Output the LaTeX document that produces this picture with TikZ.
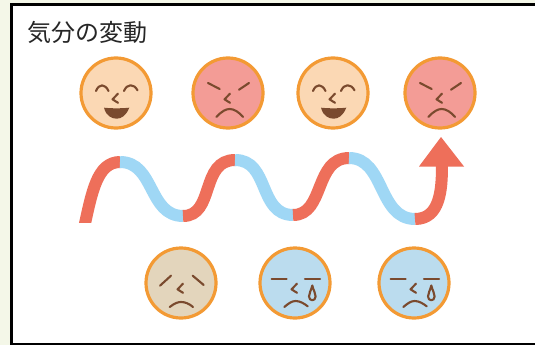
\documentclass[tikz,border=0pt]{standalone}
\usepackage{fontspec}
\newfontfamily\cjk{Noto Sans CJK JP}
\definecolor{pagebg}{HTML}{F4F7E8}
\definecolor{ringc}{HTML}{F39A34}
\definecolor{happyc}{HTML}{FBD8B4}
\definecolor{angryc}{HTML}{F39C96}
\definecolor{sadc}{HTML}{E3D5BC}
\definecolor{cryc}{HTML}{BBDCEE}
\definecolor{inkc}{HTML}{7A4A2E}
\definecolor{upc}{HTML}{EE6F5A}
\definecolor{downc}{HTML}{9FD7F5}
\tikzset{
  x=1pt,y=-1pt,
  ring/.style={draw=ringc,line width=3.2pt},
  ink/.style={draw=inkc,line width=2.1pt,line cap=round,line join=round},
  wave/.style={line width=12pt,line cap=butt},
  nosepart/.pic={\draw[ink] (2,0.7) -- (-3.5,6.3) -- (2,9.8);},
  happyface/.pic={
    \draw[ring,fill=happyc] (0,0) circle[radius=35];
    \draw[ink] (-20,-2) .. controls (-17,-9.5) and (-11,-9.5) .. (-7.5,-2);
    \draw[ink] (8,-2) .. controls (11,-9.5) and (18,-9.5) .. (21.5,-2.7);
    \pic{nosepart};
    \fill[inkc] (-12,14.7) .. controls (-4,15.5) and (5,15.5) .. (13.3,14.7)
       .. controls (10,23) and (5,25.7) .. (0.7,25.7) .. controls (-4,25.7) and (-10,23) .. cycle;
  },
  angryface/.pic={
    \draw[ring,fill=angryc] (0,0) circle[radius=35];
    \draw[ink] (-20,-10) -- (-8.3,-4);
    \draw[ink] (11,-3.3) -- (21,-10);
    \pic{nosepart};
    \draw[ink] (-11.7,24) .. controls (-6,18) and (-2,16) .. (1.7,16) .. controls (6,16) and (11,19) .. (15,24);
  },
  sadface/.pic={
    \draw[ring,fill=sadc] (0,0) circle[radius=35];
    \draw[ink] (-21,2.7) -- (-10,-7.3);
    \draw[ink] (11.7,-7.3) -- (22.7,2);
    \pic{nosepart};
    \draw[ink] (-11.3,24) .. controls (-6,20) and (-3,19) .. (0,19) .. controls (4,19) and (8,20.5) .. (12,24);
  },
  cryface/.pic={
    \draw[ring,fill=cryc] (0,0) circle[radius=35];
    \draw[ink] (-23.3,-3.7) -- (-8.3,-3.7);
    \draw[ink] (10,-3.7) -- (25,-3.7);
    \pic{nosepart};
    \draw[ink] (-10.7,24) .. controls (-6,20) and (-3,18) .. (0.7,18) .. controls (5,18) and (9,20.5) .. (12.7,23.3);
    \draw[ink] (17.3,2.5) .. controls (16,8) and (14,10) .. (14,13.5)
       .. controls (14,18.5) and (20.6,18.5) .. (20.6,13.5) .. controls (20.6,10) and (18.6,8) .. cycle;
  },
}
\begin{document}
\begin{tikzpicture}
\useasboundingbox (0,0) rectangle (535,345);
\fill[pagebg] (0,0) rectangle (535,345);
\draw[black,fill=white,line width=3pt] (11,5) -- (540,5) -- (540,344.5) -- (11,344.5) -- cycle;
\node[anchor=west,inner sep=0pt,text=black!85] (title) at (27,32) {\cjk\fontsize{24}{28}\selectfont 気分の変動};
% faces
\pic at (116,93) {happyface};
\pic at (228,93) {angryface};
\pic at (333,93) {happyface};
\pic at (440,93) {angryface};
\pic at (181,283) {sadface};
\pic at (295,283) {cryface};
\pic at (414,283) {cryface};
% wave
\begin{scope}
\clip (60,140) rectangle (130,222.8);
\draw[wave,upc] (84,228) .. controls (92,192) and (97,162) .. (120.2,162);
\end{scope}
\draw[wave,downc] (120,162) .. controls (155,162) and (148,216) .. (183.2,216);
\draw[wave,upc] (183,216) .. controls (215,216) and (200,160) .. (235.2,160);
\draw[wave,downc] (235,160) .. controls (270,160) and (258,215) .. (293.2,215);
\draw[wave,upc] (293,215) .. controls (325,215) and (314,158) .. (349.2,158);
\draw[wave,downc] (349,158) .. controls (385,158) and (378,219) .. (415.2,219);
\draw[wave,upc] (415,219) .. controls (440,219) and (442,190) .. (442,165);
\fill[upc] (441,137) -- (464,166.5) -- (419,166.5) -- cycle;
\end{tikzpicture}
\end{document}
